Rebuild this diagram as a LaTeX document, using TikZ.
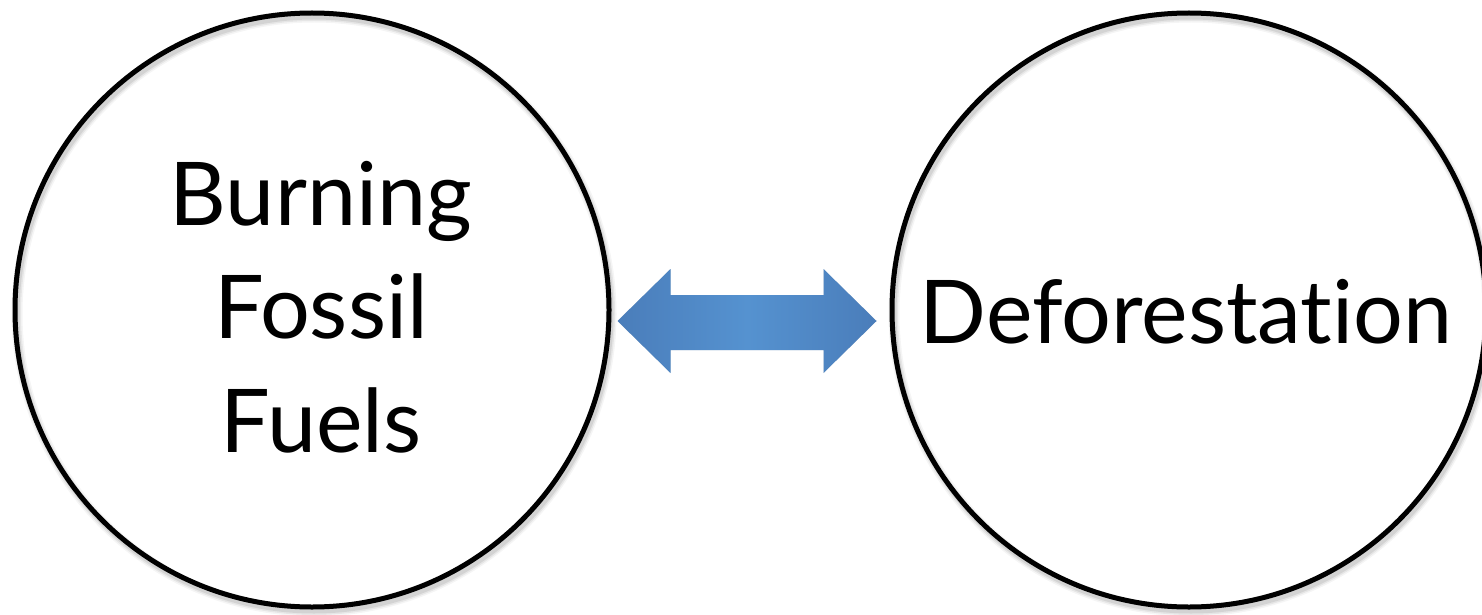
\documentclass[tikz,border=0pt]{standalone}
\usepackage{fontspec}
\setmainfont[Ligatures={NoCommon,NoRare,NoContextual},RawFeature={-liga;-dlig;-clig;-calt}]{Lato}
\usetikzlibrary{calc}
\definecolor{arrowedge}{HTML}{4A7DBA}
\definecolor{arrowmid}{HTML}{5592D0}
\newcommand{\myarrowpath}{(tipL) -- ($(tipL)+(53,-52)$) -- ($(tipL)+(53,-26)$) -- ($(tipR)+(-53,-26)$) -- ($(tipR)+(-53,-52)$) -- (tipR) -- ($(tipR)+(-53,52)$) -- ($(tipR)+(-53,29)$) -- ($(tipL)+(53,29)$) -- ($(tipL)+(53,52)$) -- cycle}
\begin{document}
\begin{tikzpicture}[x=1pt,y=-1pt,
  ring/.style={circle, draw=black, line width=5pt, minimum size=594pt, inner sep=0pt},
  lbl/.style={font=\fontsize{88}{113}\selectfont, inner sep=0pt, anchor=base}]
\useasboundingbox (0,0) rectangle (1482,615);
\fill[white] (0,0) rectangle (1482,615);
% soft shadows of the rings
\foreach \w/\o in {11/0.04, 8/0.06, 5/0.08} {
  \draw[line width=\w pt, black, opacity=\o] (314,314) circle[radius=297];
  \draw[line width=\w pt, black, opacity=\o] (1191,314) circle[radius=297];
}
\node[ring] (fuels) at (312,310) {};
\node[ring] (defor) at (1189,310) {};
\node[lbl] (fuelsA) at (321,225) {Burning};
\node[lbl] (fuelsB) at (321,338) {Fossil};
\node[lbl] (fuelsC) at (321,452) {Fuels};
\node[lbl] (defortext) at (1186,343) {Deforestat\kern0pt ion};
% double arrow between the rings
\coordinate (tipL) at ($(fuels.east)+(6,11)$);
\coordinate (tipR) at ($(defor.west)+(-13,11)$);
\begin{scope}[shift={(2,5)}]
  \fill[black, opacity=0.06] \myarrowpath;
\end{scope}
\begin{scope}[shift={(1,3)}]
  \fill[black, opacity=0.08] \myarrowpath;
\end{scope}
\shade[left color=arrowedge, right color=arrowedge, middle color=arrowmid] \myarrowpath;
\end{tikzpicture}
\end{document}
